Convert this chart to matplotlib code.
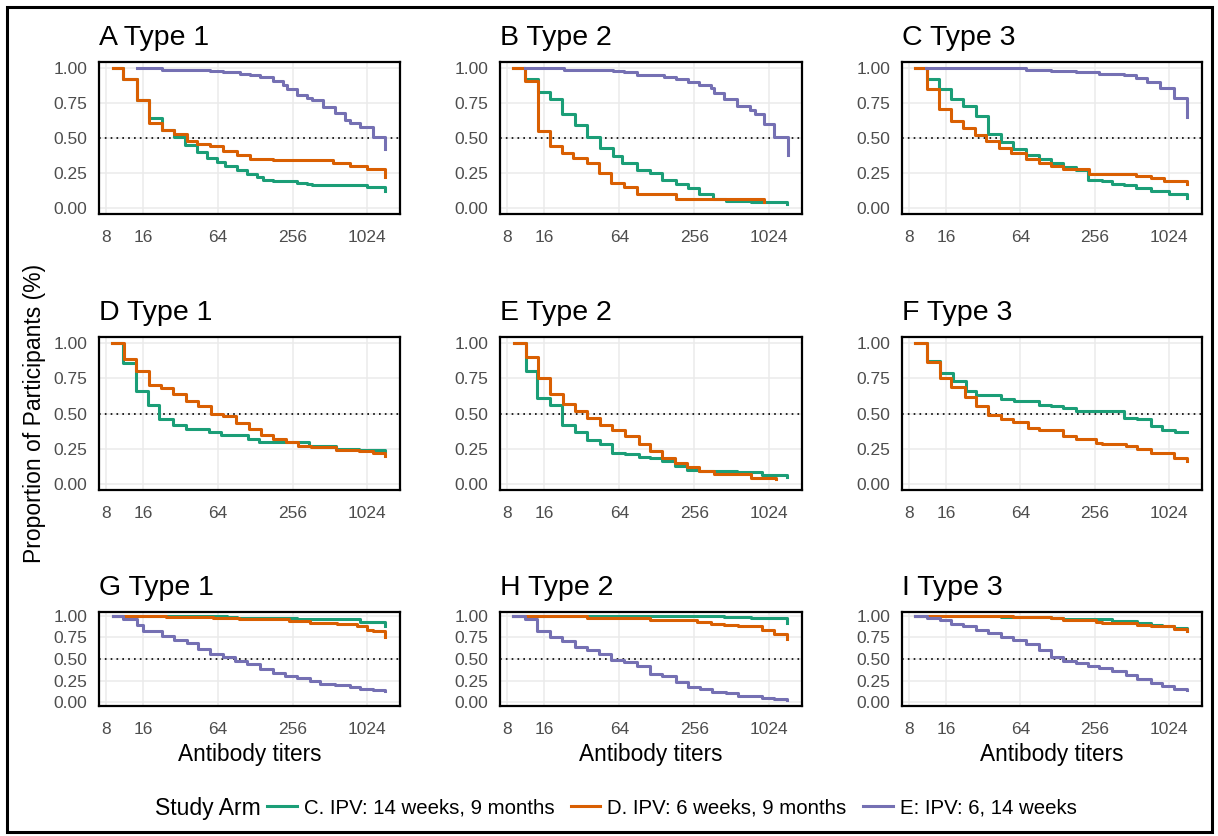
import matplotlib
matplotlib.use('Agg')
import matplotlib.pyplot as plt
from matplotlib.lines import Line2D
from matplotlib.patches import Rectangle

plt.rcParams['font.family'] = ['Liberation Sans', 'DejaVu Sans']

W, H = 1218, 836
fig = plt.figure(figsize=(W / 100, H / 100), dpi=100)

arms = ['C. IPV: 14 weeks, 9 months', 'D. IPV: 6 weeks, 9 months', 'E: IPV: 6, 14 weeks']
colors = ['#1B9E77', '#D95F02', '#7570B3']
titles = ['A Type 1', 'B Type 2', 'C Type 3',
          'D Type 1', 'E Type 2', 'F Type 3',
          'G Type 1', 'H Type 2', 'I Type 3']
x_breaks = [8, 16, 64, 256, 1024]
x_labels = ['8', '16', '64', '256', '1024']
y_breaks = [0.0, 0.25, 0.5, 0.75, 1.0]
y_labels = ['0.00', '0.25', '0.50', '0.75', '1.00']

# ---- Panel A ----
A_C_x = [9.2, 11.1, 14.2, 17.7, 22.6, 28.1, 34.9, 43.3, 52.1, 62.7, 73.2, 90.9, 109, 132, 149, 179, 276, 333, 365, 1014, 1430]
A_C_y = [1.0, 0.92, 0.77, 0.64, 0.56, 0.51, 0.45, 0.40, 0.36, 0.33, 0.30, 0.27, 0.24, 0.22, 0.20, 0.19, 0.18, 0.17, 0.16, 0.15, 0.12]
A_D_x = [9.2, 11.1, 14.2, 17.7, 22.6, 28.1, 35.9, 43.3, 55.4, 70.9, 90.9, 116, 179, 546, 744, 1014, 1430]
A_D_y = [1.0, 0.92, 0.77, 0.61, 0.56, 0.53, 0.48, 0.46, 0.44, 0.41, 0.38, 0.35, 0.34, 0.32, 0.30, 0.28, 0.22]
A_E_x = [14.2, 22.6, 55.4, 70.9, 96.7, 116, 140, 179, 216, 230, 276, 333, 365, 454, 567, 678, 744, 895, 1147, 1430]
A_E_y = [1.0, 0.99, 0.98, 0.97, 0.96, 0.95, 0.94, 0.91, 0.88, 0.85, 0.81, 0.79, 0.77, 0.72, 0.68, 0.63, 0.61, 0.58, 0.51, 0.42]

# ---- Panel B ----
B_C_x = [9.0, 11.2, 14.2, 17.8, 22.1, 28.0, 35.2, 44.9, 56.5, 67.5, 89.3, 113, 142, 184, 228, 281, 362, 462, 731, 1430]
B_C_y = [1.0, 0.92, 0.83, 0.78, 0.67, 0.59, 0.51, 0.43, 0.37, 0.32, 0.27, 0.25, 0.20, 0.17, 0.14, 0.10, 0.06, 0.05, 0.04, 0.03]
B_D_x = [9.0, 11.2, 14.2, 17.8, 22.1, 27.3, 35.2, 43.9, 54.5, 69.6, 89.3, 184, 935]
B_D_y = [1.0, 0.91, 0.55, 0.44, 0.39, 0.36, 0.32, 0.25, 0.18, 0.15, 0.10, 0.06, 0.04]
B_E_x = [11.2, 23.0, 56.5, 69.6, 89.3, 146, 184, 228, 281, 347, 371, 443, 567, 714, 784, 925, 1118, 1440]
B_E_y = [1.0, 0.99, 0.98, 0.97, 0.955, 0.94, 0.92, 0.90, 0.88, 0.86, 0.82, 0.78, 0.73, 0.70, 0.67, 0.60, 0.51, 0.38]

# ---- Panel C ----
C_C_x = [8.9, 11.2, 14.0, 17.7, 21.9, 28.1, 34.9, 44.6, 55.4, 70.9, 90.9, 112, 140, 179, 223, 294, 354, 440, 546, 721, 1014, 1430]
C_C_y = [1.0, 0.92, 0.85, 0.78, 0.73, 0.66, 0.53, 0.47, 0.42, 0.38, 0.35, 0.32, 0.29, 0.27, 0.20, 0.19, 0.17, 0.16, 0.14, 0.12, 0.10, 0.07]
C_D_x = [8.9, 11.2, 14.0, 17.7, 21.9, 27.2, 33.8, 43.3, 53.6, 70.9, 90.9, 112, 140, 230, 546, 725, 925, 1430]
C_D_y = [1.0, 0.85, 0.71, 0.62, 0.57, 0.52, 0.48, 0.43, 0.39, 0.35, 0.32, 0.30, 0.28, 0.24, 0.23, 0.21, 0.19, 0.17]
C_E_x = [11.1, 70.9, 112, 179, 276, 440, 546, 678, 868, 1107, 1430]
C_E_y = [1.0, 0.99, 0.98, 0.97, 0.96, 0.95, 0.93, 0.90, 0.86, 0.79, 0.65]

# ---- Panel D ----
D_C_x = [9.0, 11.0, 14.0, 17.5, 21.6, 27.7, 35.3, 54.0, 68.0, 111, 138, 348, 574, 884, 1430]
D_C_y = [1.0, 0.86, 0.66, 0.56, 0.46, 0.42, 0.39, 0.37, 0.35, 0.32, 0.30, 0.27, 0.25, 0.24, 0.23]
D_D_x = [9.0, 11.3, 14.0, 17.9, 22.4, 27.7, 35.3, 44.0, 56.0, 70.1, 89.9, 114, 143, 177, 227, 281, 360, 574, 884, 1132, 1430]
D_D_y = [1.0, 0.89, 0.80, 0.70, 0.68, 0.64, 0.59, 0.55, 0.50, 0.48, 0.43, 0.39, 0.35, 0.32, 0.30, 0.27, 0.26, 0.24, 0.23, 0.22, 0.20]

# ---- Panel E ----
E_C_x = [9.2, 11.3, 13.9, 17.8, 22.1, 28.3, 35.1, 44.9, 55.7, 71.4, 91.4, 113, 141, 180, 225, 281, 567, 890, 1430]
E_C_y = [1.0, 0.80, 0.61, 0.56, 0.42, 0.37, 0.31, 0.28, 0.22, 0.21, 0.19, 0.18, 0.16, 0.125, 0.10, 0.09, 0.08, 0.06, 0.05]
E_D_x = [9.2, 11.5, 14.3, 17.8, 22.8, 28.3, 35.1, 44.9, 55.7, 71.4, 91.4, 113, 141, 180, 225, 281, 366, 728, 1156]
E_D_y = [1.0, 0.905, 0.75, 0.64, 0.57, 0.52, 0.47, 0.42, 0.38, 0.34, 0.28, 0.23, 0.18, 0.15, 0.12, 0.09, 0.066, 0.043, 0.03]

# ---- Panel F ----
F_C_x = [8.9, 11.2, 14.2, 18.2, 23.3, 28.1, 44.6, 56.9, 90.9, 112, 140, 179, 440, 564, 721, 895, 1147, 1430]
F_C_y = [1.0, 0.877, 0.79, 0.735, 0.66, 0.63, 0.60, 0.59, 0.56, 0.55, 0.54, 0.52, 0.47, 0.46, 0.41, 0.38, 0.37, 0.365]
F_D_x = [8.9, 11.2, 14.2, 17.7, 22.6, 28.1, 34.9, 44.6, 55.4, 73.2, 90.9, 140, 179, 260, 294, 454, 564, 721, 1107, 1430]
F_D_y = [1.0, 0.87, 0.75, 0.69, 0.62, 0.55, 0.49, 0.46, 0.44, 0.40, 0.38, 0.34, 0.32, 0.29, 0.28, 0.27, 0.25, 0.22, 0.18, 0.16]

# ---- Panel G ----
G_C_x = [9.2, 75.5, 90.9, 276, 895, 1430]
G_C_y = [1.0, 0.99, 0.98, 0.96, 0.93, 0.88]
G_D_x = [9.2, 24.3, 58.9, 95, 240, 354, 581, 842, 1014, 1147, 1430]
G_D_y = [1.0, 0.99, 0.98, 0.96, 0.94, 0.92, 0.91, 0.88, 0.84, 0.82, 0.75]
G_E_x = [9.2, 11.1, 14.2, 16.1, 22.6, 28.1, 35.9, 44.6, 55.4, 70.9, 88, 109, 140, 179, 223, 276, 354, 426, 564, 744, 895, 1147, 1430]
G_E_y = [1.0, 0.96, 0.90, 0.83, 0.77, 0.72, 0.69, 0.62, 0.56, 0.52, 0.48, 0.44, 0.38, 0.34, 0.30, 0.275, 0.245, 0.215, 0.195, 0.175, 0.155, 0.14, 0.13]

# ---- Panel H ----
H_C_x = [9.0, 446, 733, 1430]
H_C_y = [1.0, 0.99, 0.97, 0.92]
H_D_x = [9.0, 35.2, 56.5, 113, 272, 347, 446, 574, 905, 1128, 1430]
H_D_y = [1.0, 0.98, 0.97, 0.95, 0.93, 0.91, 0.89, 0.88, 0.84, 0.79, 0.73]
H_E_x = [9.0, 11.2, 14.0, 17.8, 22.1, 28.3, 35.2, 43.9, 54.5, 69.6, 89.3, 113, 142, 184, 228, 283, 355, 462, 574, 905, 1128, 1430]
H_E_y = [1.0, 0.96, 0.82, 0.75, 0.71, 0.64, 0.61, 0.56, 0.49, 0.46, 0.42, 0.33, 0.30, 0.23, 0.18, 0.15, 0.12, 0.10, 0.07, 0.05, 0.035, 0.03]

# ---- Panel I ----
I_C_x = [8.9, 44.6, 112, 140, 354, 564, 721, 895, 1107, 1430]
I_C_y = [1.0, 0.99, 0.98, 0.96, 0.94, 0.92, 0.90, 0.88, 0.86, 0.84]
I_D_x = [8.9, 55.4, 112, 140, 260, 294, 564, 721, 1107, 1430]
I_D_y = [1.0, 0.985, 0.97, 0.95, 0.93, 0.92, 0.90, 0.88, 0.85, 0.82]
I_E_x = [8.9, 11.2, 14.2, 17.7, 21.9, 28.1, 34.9, 44.6, 55.4, 70.9, 90.9, 112, 140, 179, 223, 276, 354, 454, 564, 721, 895, 1107, 1430]
I_E_y = [1.0, 0.98, 0.95, 0.91, 0.88, 0.84, 0.80, 0.76, 0.72, 0.67, 0.61, 0.52, 0.48, 0.45, 0.42, 0.40, 0.36, 0.31, 0.27, 0.22, 0.19, 0.15, 0.14]

panels = [
    [(A_C_x, A_C_y, 0), (A_D_x, A_D_y, 1), (A_E_x, A_E_y, 2)],
    [(B_C_x, B_C_y, 0), (B_D_x, B_D_y, 1), (B_E_x, B_E_y, 2)],
    [(C_C_x, C_C_y, 0), (C_D_x, C_D_y, 1), (C_E_x, C_E_y, 2)],
    [(D_C_x, D_C_y, 0), (D_D_x, D_D_y, 1)],
    [(E_C_x, E_C_y, 0), (E_D_x, E_D_y, 1)],
    [(F_C_x, F_C_y, 0), (F_D_x, F_D_y, 1)],
    [(G_C_x, G_C_y, 0), (G_D_x, G_D_y, 1), (G_E_x, G_E_y, 2)],
    [(H_C_x, H_C_y, 0), (H_D_x, H_D_y, 1), (H_E_x, H_E_y, 2)],
    [(I_C_x, I_C_y, 0), (I_D_x, I_D_y, 1), (I_E_x, I_E_y, 2)],
]

# layout in pixels
col_x = [(99, 400), (500, 802), (902, 1202)]
row_y = [(62, 214), (337, 490), (612, 706)]


def px_rect(x0, x1, y0, y1):
    return [x0 / W, 1 - y1 / H, (x1 - x0) / W, (y1 - y0) / H]


grey = '#4D4D4D'
for i, series in enumerate(panels):
    r, c = divmod(i, 3)
    ax = fig.add_axes(px_rect(col_x[c][0], col_x[c][1], row_y[r][0], row_y[r][1]))
    ax.set_xscale('log', base=2)
    ax.set_xlim(7.05, 1880)
    ax.set_ylim(-0.045, 1.045)
    ax.set_xticks(x_breaks)
    ax.set_xticklabels(x_labels)
    ax.set_yticks(y_breaks)
    ax.set_yticklabels(y_labels)
    ax.xaxis.set_minor_locator(matplotlib.ticker.NullLocator())
    ax.tick_params(axis='both', length=0, colors=grey, labelsize=12.5)
    ax.tick_params(axis='x', pad=11.5)
    ax.tick_params(axis='y', pad=8.5)
    ax.grid(True, color='#EBEBEB', linewidth=1.1)
    ax.set_axisbelow(True)
    for sp in ax.spines.values():
        sp.set_color('black')
        sp.set_linewidth(1.6)
        sp.set_zorder(5)
    ax.axhline(0.5, color='black', linestyle=(0, (1, 2.5)), linewidth=1.2, zorder=1.5)
    for xs, ys, k in series:
        ax.step(xs, ys, where='post', color=colors[k], linewidth=2.2, zorder=2 + k * 0.1)
    ax.set_title(titles[i], loc='left', fontsize=20.5, pad=12, color='black')
    if r == 2:
        cx = (col_x[c][0] + col_x[c][1]) / 2
        fig.text(cx / W, 1 - 754 / H, 'Antibody titers', ha='center', va='center',
                 fontsize=16.3, color='black')

fig.text(35 / W, 1 - 413 / H, 'Proportion of Participants (%)', rotation=90,
         ha='center', va='center', fontsize=16.5, color='black')

# legend
fig.text(155 / W, 1 - 808 / H, 'Study Arm', ha='left', va='center', fontsize=16.5)
handles = [Line2D([], [], color=colors[k], linewidth=2.2) for k in range(3)]
fig.legend(handles, arms, loc='center left', bbox_to_anchor=(267 / W, 1 - 808 / H),
           ncol=3, frameon=False, fontsize=14.7, handlelength=1.45,
           handletextpad=0.35, columnspacing=0.8, borderpad=0, borderaxespad=0)

# outer border
fig.patches.append(Rectangle((7 / W, 1 - 832 / H), (1212 - 7) / W, (832 - 7) / H,
                             transform=fig.transFigure, fill=False,
                             edgecolor='black', linewidth=2.2))

fig.savefig('out.png', dpi=100)
